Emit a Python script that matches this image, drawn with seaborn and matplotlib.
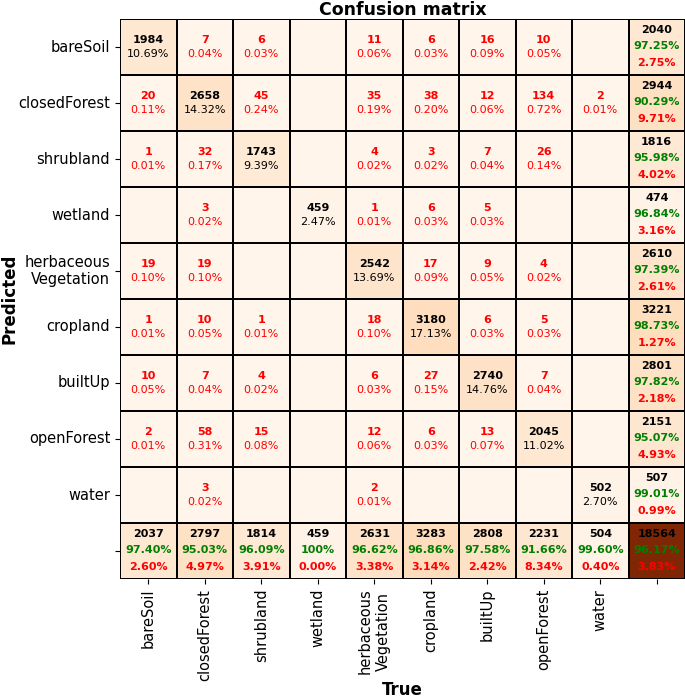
import numpy as np
import pandas as pd
import matplotlib
matplotlib.use("Agg")
import matplotlib.pyplot as plt
import seaborn as sns

# class names (rows = predicted, columns = true)
classes = ["bareSoil", "closedForest", "shrubland", "wetland", "herbaceous\nVegetation",
           "cropland", "builtUp", "openForest", "water"]

# confusion matrix counts
row_bareSoil = [1984, 7, 6, 0, 11, 6, 16, 10, 0]
row_closedForest = [20, 2658, 45, 0, 35, 38, 12, 134, 2]
row_shrubland = [1, 32, 1743, 0, 4, 3, 7, 26, 0]
row_wetland = [0, 3, 0, 459, 1, 6, 5, 0, 0]
row_herbaceous = [19, 19, 0, 0, 2542, 17, 9, 4, 0]
row_cropland = [1, 10, 1, 0, 18, 3180, 6, 5, 0]
row_builtUp = [10, 7, 4, 0, 6, 27, 2740, 7, 0]
row_openForest = [2, 58, 15, 0, 12, 6, 13, 2045, 0]
row_water = [0, 3, 0, 0, 2, 0, 0, 0, 502]

cm = np.array([row_bareSoil, row_closedForest, row_shrubland, row_wetland, row_herbaceous,
               row_cropland, row_builtUp, row_openForest, row_water])
n = len(classes)
total = cm.sum()

# add totals column / row
full = np.zeros((n + 1, n + 1), dtype=int)
full[:n, :n] = cm
full[:n, n] = cm.sum(axis=1)
full[n, :n] = cm.sum(axis=0)
full[n, n] = total
df = pd.DataFrame(full, index=classes + [""], columns=classes + [""])

fig = plt.figure(figsize=(6.85, 6.99), dpi=100)
ax = fig.add_axes([120 / 685, 1 - 579 / 699, 565 / 685, 560 / 699])
sns.heatmap(df, cmap="Oranges", cbar=False, linewidths=1.4, linecolor="black",
            annot=False, ax=ax)

fs = 8
for i in range(n + 1):
    for j in range(n + 1):
        x, y = j + 0.5, i + 0.5
        v = full[i, j]
        if i == n or j == n:
            if i == n and j == n:
                ok = np.trace(cm)
            elif j == n:
                ok = cm[i, i]
            else:
                ok = cm[j, j]
            acc = ok / v * 100 if v else 0
            acc_txt = "100%" if acc == 100 else f"{acc:.2f}%"
            ax.text(x, y - 0.31, str(v), ha="center", va="center", fontsize=fs,
                    fontweight="bold", color="black")
            ax.text(x, y - 0.01, acc_txt, ha="center", va="center", fontsize=fs,
                    fontweight="bold", color="green")
            ax.text(x, y + 0.29, f"{100 - acc:.2f}%", ha="center", va="center",
                    fontsize=fs, fontweight="bold", color="red")
        elif v > 0:
            col = "black" if i == j else "red"
            ax.text(x, y - 0.12, str(v), ha="center", va="center", fontsize=fs,
                    fontweight="bold", color=col)
            ax.text(x, y + 0.12, f"{v / total * 100:.2f}%", ha="center", va="center",
                    fontsize=fs, color=col)

ax.set_xticklabels(classes + [""], rotation=90, fontsize=10.5)
ax.set_yticklabels(classes + [""], rotation=0, fontsize=10.5)
ax.set_title("Confusion matrix", fontsize=12.5, fontweight="bold", pad=3)
ax.set_xlabel("True", fontsize=12, fontweight="bold", labelpad=0)
ax.set_ylabel("Predicted", fontsize=12, fontweight="bold", labelpad=0)

fig.savefig("out.png", dpi=100)
